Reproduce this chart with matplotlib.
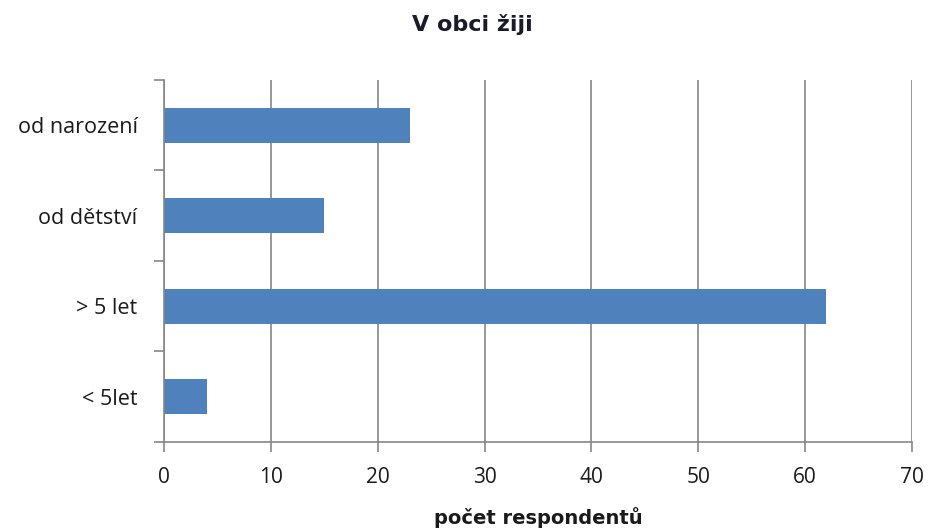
import numpy as np
import matplotlib
matplotlib.use("Agg")
import matplotlib.pyplot as plt

# data
categories = ["< 5let", "> 5 let", "od dětství", "od narození"]
values = [4, 62, 15, 23]
xticks = [0, 10, 20, 30, 40, 50, 60, 70]

plt.rcParams['font.family'] = ['Open Sans', 'DejaVu Sans']

fig = plt.figure(figsize=(9.3, 5.28), dpi=100)
ax = fig.add_axes([0.1763, 0.1629, 0.8043, 0.6856])

ypos = np.arange(len(categories))
ax.barh(ypos, values, height=0.39, color='#4F81BD', zorder=3)

ax.set_xlim(0, 70)
ax.set_ylim(-0.5, len(categories) - 0.5)
ax.set_xticks(xticks)
ax.set_xticklabels([str(t) for t in xticks])

# category separators as ticks on y axis
ax.set_yticks(np.arange(-0.5, len(categories), 1.0))
ax.set_yticklabels([])
ax.set_yticks(ypos, minor=True)
ax.set_yticklabels(categories, minor=True)
ax.tick_params(axis='y', which='minor', length=0, pad=19, labelsize=15.5, colors='#1a1a1a')
ax.tick_params(axis='y', which='major', length=7, width=1.2, color='#868686')
ax.tick_params(axis='x', length=7, width=1.2, color='#868686', pad=11, labelsize=15,
               labelcolor='#1a1a1a')

ax.grid(axis='x', color='#868686', linewidth=1.2, zorder=0)
for s in ['top', 'right']:
    ax.spines[s].set_visible(False)
for s in ['left', 'bottom']:
    ax.spines[s].set_color('#868686')
    ax.spines[s].set_linewidth(1.2)
    ax.spines[s].set_zorder(4)

fig.text(0.5785, 1 - 524 / 528, "počet respondentů", ha='center', va='baseline',
         fontsize=14, fontweight='bold', color='#1a1a1a', family='DejaVu Sans')
fig.text(0.508, 1 - 31 / 528, "V obci žiji", ha='center', va='baseline',
         fontsize=16, fontweight='bold', color='#1a1a2a', family='DejaVu Sans')

fig.savefig("out.png", dpi=100)
